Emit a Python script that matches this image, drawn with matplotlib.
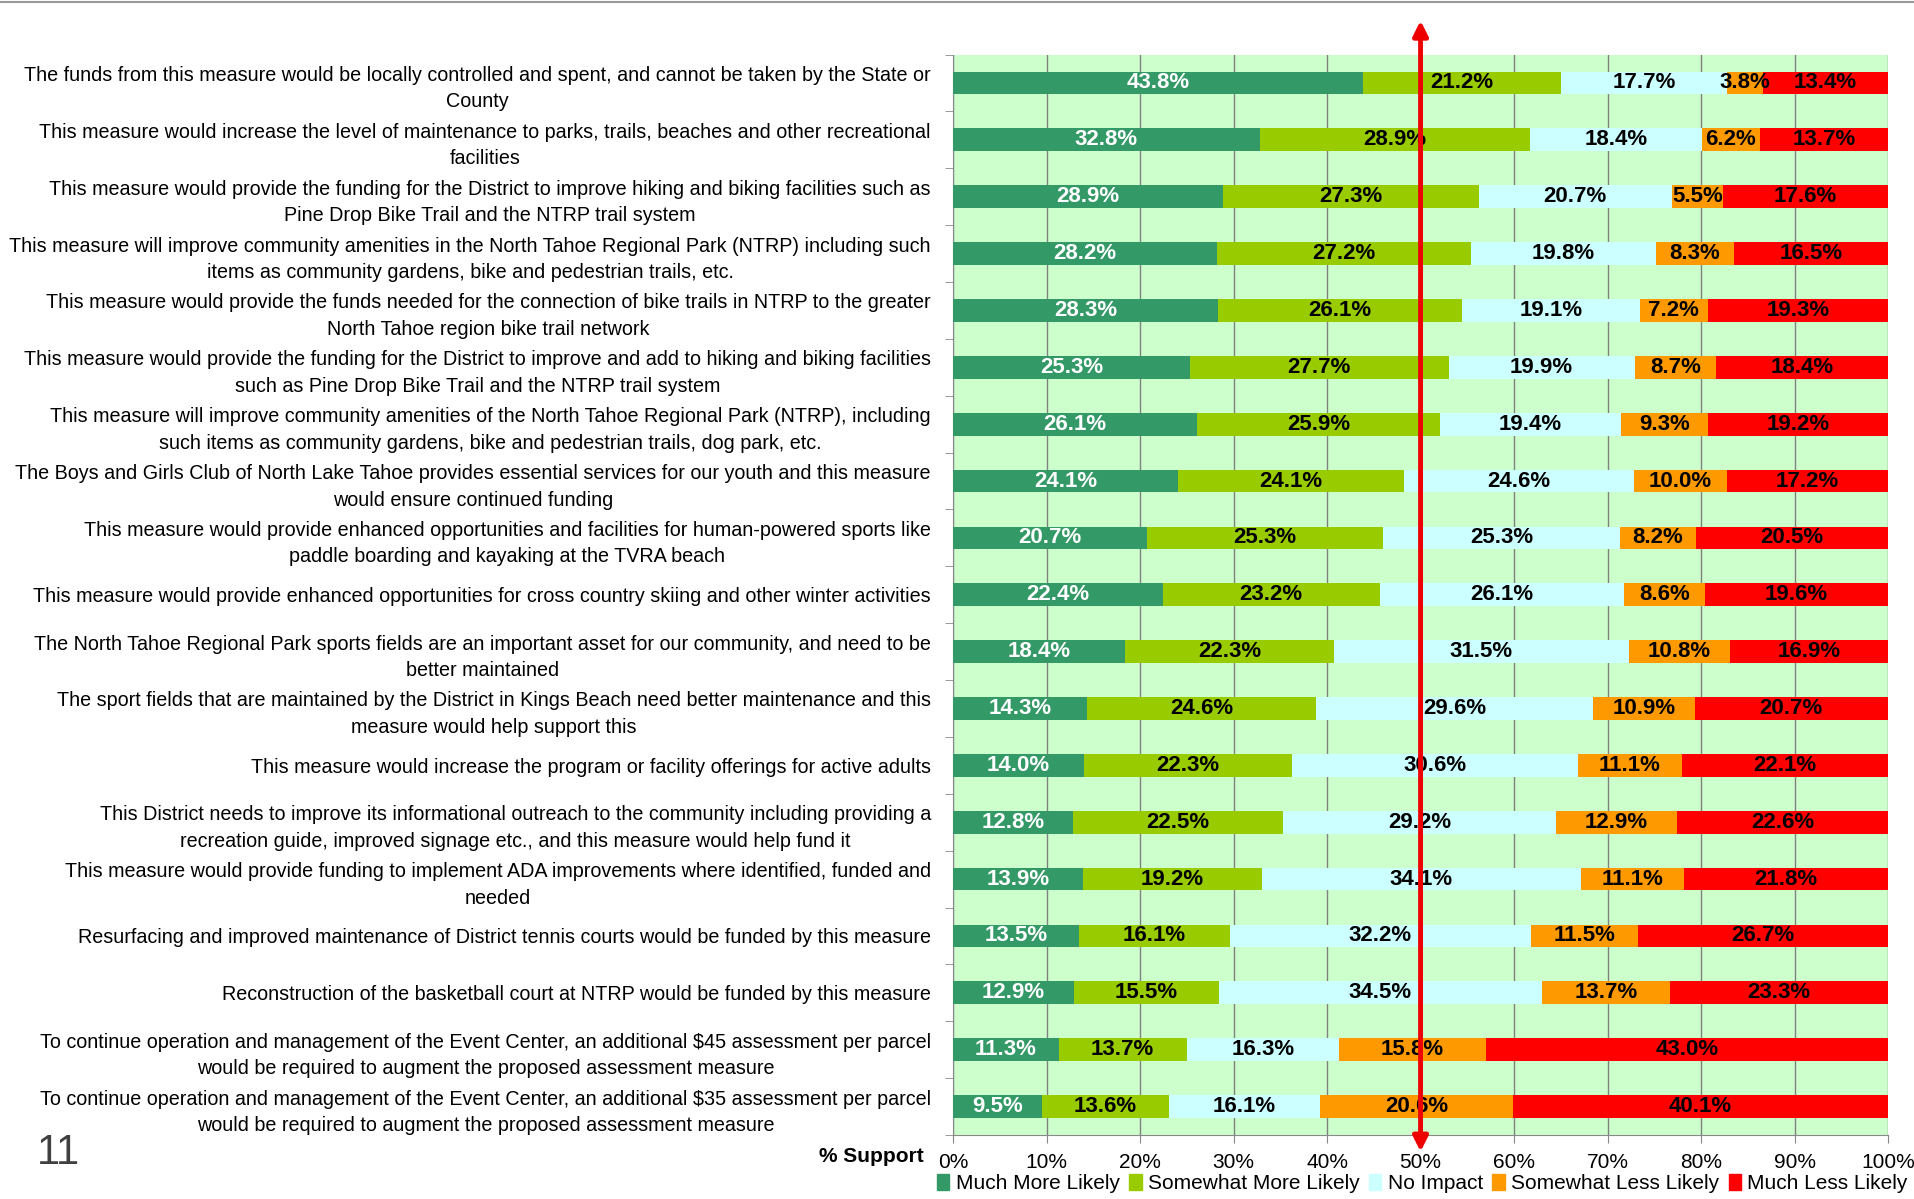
import numpy as np
import matplotlib
matplotlib.use("Agg")
import matplotlib.pyplot as plt
from matplotlib.patches import FancyArrowPatch
from matplotlib.lines import Line2D

plt.rcParams['font.family'] = ['Liberation Sans', 'DejaVu Sans']

# Формулировки вопросов (сверху вниз)
statements = [
    "The funds from this measure would be locally controlled and spent, and cannot be taken by the State or\nCounty",
    "This measure would increase the level of maintenance to parks, trails, beaches and other recreational\nfacilities",
    "This measure would provide the funding for the District to improve hiking and biking facilities such as\nPine Drop Bike Trail and the NTRP trail system",
    "This measure will improve community amenities in the North Tahoe Regional Park (NTRP) including such\nitems as community gardens, bike and pedestrian trails, etc.",
    "This measure would provide the funds needed for the connection of bike trails in NTRP to the greater\nNorth Tahoe region bike trail network",
    "This measure would provide the funding for the District to improve and add to hiking and biking facilities\nsuch as Pine Drop Bike Trail and the NTRP trail system",
    "This measure will improve community amenities of the North Tahoe Regional Park (NTRP), including\nsuch items as community gardens, bike and pedestrian trails, dog park, etc.",
    "The Boys and Girls Club of North Lake Tahoe provides essential services for our youth and this measure\nwould ensure continued funding",
    "This measure would provide enhanced opportunities and facilities for human-powered sports like\npaddle boarding and kayaking at the TVRA beach",
    "This measure would provide enhanced opportunities for cross country skiing and other winter activities",
    "The North Tahoe Regional Park sports fields are an important asset for our community, and need to be\nbetter maintained",
    "The sport fields that are maintained by the District in Kings Beach need better maintenance and this\nmeasure would help support this",
    "This measure would increase the program or facility offerings for active adults",
    "This District needs to improve its informational outreach to the community including providing a\nrecreation guide, improved signage etc., and this measure would help fund it",
    "This measure would provide funding to implement ADA improvements where identified, funded and\nneeded",
    "Resurfacing and improved maintenance of District tennis courts would be funded by this measure",
    "Reconstruction of the basketball court at NTRP would be funded by this measure",
    "To continue operation and management of the Event Center, an additional $45 assessment per parcel\nwould be required to augment the proposed assessment measure",
    "To continue operation and management of the Event Center, an additional $35 assessment per parcel\nwould be required to augment the proposed assessment measure",
]

much_more = [43.8, 32.8, 28.9, 28.2, 28.3, 25.3, 26.1, 24.1, 20.7, 22.4, 18.4, 14.3, 14.0, 12.8, 13.9, 13.5, 12.9, 11.3, 9.5]
somewhat_more = [21.2, 28.9, 27.3, 27.2, 26.1, 27.7, 25.9, 24.1, 25.3, 23.2, 22.3, 24.6, 22.3, 22.5, 19.2, 16.1, 15.5, 13.7, 13.6]
no_impact = [17.7, 18.4, 20.7, 19.8, 19.1, 19.9, 19.4, 24.6, 25.3, 26.1, 31.5, 29.6, 30.6, 29.2, 34.1, 32.2, 34.5, 16.3, 16.1]
somewhat_less = [3.8, 6.2, 5.5, 8.3, 7.2, 8.7, 9.3, 10.0, 8.2, 8.6, 10.8, 10.9, 11.1, 12.9, 11.1, 11.5, 13.7, 15.8, 20.6]
much_less = [13.4, 13.7, 17.6, 16.5, 19.3, 18.4, 19.2, 17.2, 20.5, 19.6, 16.9, 20.7, 22.1, 22.6, 21.8, 26.7, 23.3, 43.0, 40.1]

series_names = ["Much More Likely", "Somewhat More Likely", "No Impact", "Somewhat Less Likely", "Much Less Likely"]
series_colors = ["#339966", "#99CC00", "#CCFFFF", "#FF9900", "#FF0000"]
text_colors = ["white", "black", "black", "black", "black"]
x_ticks = [0, 10, 20, 30, 40, 50, 60, 70, 80, 90, 100]

data = np.array([much_more, somewhat_more, no_impact, somewhat_less, much_less])
totals = data.sum(axis=0)
shares = data / totals * 100  # 100% stacked

fig = plt.figure(figsize=(19.15, 11.99), dpi=100)
ax = fig.add_axes([0.4977, 0.0534, 0.4882, 0.9011])
ax.set_facecolor("#CCFFCC")

n = len(statements)
y = np.arange(n)
left = np.zeros(n)
for i in range(5):
    bars = ax.barh(y, shares[i], left=left, height=0.4, color=series_colors[i],
                   label=series_names[i], zorder=3)
    ax.bar_label(bars, labels=[f"{v:.1f}%" for v in data[i]], label_type='center',
                 color=text_colors[i], fontsize=16, fontweight='bold', zorder=4)
    left += shares[i]

ax.set_ylim(n - 0.5, -0.5)
ax.set_xlim(0, 100)

# Подписи категорий
ax.set_yticks(y)
ax.set_yticklabels(statements, fontsize=14.2, multialignment='center', linespacing=1.5)
ax.tick_params(axis='y', length=0, pad=16)
ax.set_yticks(np.arange(-0.5, n, 1), minor=True)
ax.tick_params(axis='y', which='minor', length=6, color='#888888')

ax.set_xticks(x_ticks)
ax.set_xticklabels([f"{t}%" for t in x_ticks], fontsize=15)
ax.tick_params(axis='x', length=6, color='#888888', pad=7)

ax.grid(True, axis='x', color='#808080', linewidth=1, zorder=1)
for s in ['top', 'right']:
    ax.spines[s].set_visible(False)
for s in ['left', 'bottom']:
    ax.spines[s].set_color('#888888')

# Стрелка 50%
trans = ax.get_xaxis_transform()
arrow = FancyArrowPatch((50, -0.018), (50, 1.034), transform=trans,
                        arrowstyle='<|-|>', mutation_scale=22, color='#EE0000',
                        linewidth=3.5, clip_on=False, zorder=6)
ax.add_artist(arrow)

fig.text(0.4825, 0.0355, "% Support", fontsize=15, fontweight='bold', ha='right', va='center')
fig.text(0.019, 0.038, "11", fontsize=30, color='#404040', ha='left', va='center')

# Верхняя серая линия
fig.add_artist(Line2D([0, 1], [0.9985, 0.9985], color='#999999', linewidth=1.5))

handles = [plt.Rectangle((0, 0), 1, 1, color=c) for c in series_colors]
fig.legend(handles, series_names, loc='lower right', bbox_to_anchor=(1.006, -0.011), ncol=5,
           frameon=False, fontsize=15, handlelength=0.6, handleheight=0.8,
           handletextpad=0.3, columnspacing=0.45)

plt.savefig("out.png", dpi=100)
